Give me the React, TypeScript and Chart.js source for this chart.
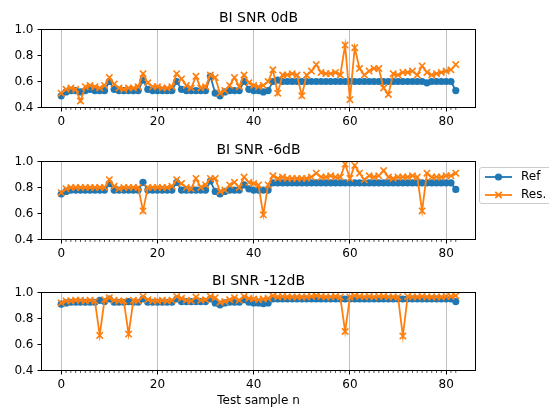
import React, { useEffect, useRef } from "react";
import { Chart, registerables } from "chart.js";
Chart.register(...registerables);

const BLUE = "#1f77b4";
const ORANGE = "#ff7f0e";
const FONT = "DejaVu Sans";

const subplotTitles = ["BI SNR 0dB", "BI SNR -6dB", "BI SNR -12dB"];
const seriesLabels = ["Ref", "Res."];
const xTickValues = [0, 20, 40, 60, 80];
const yTickValues = [0.4, 0.6, 0.8, 1.0];
const xAxisLabel = "Test sample n";
const sampleCount = 83;

const ref0dB = [
  0.49, 0.52, 0.53, 0.53, 0.52, 0.53, 0.54, 0.53, 0.53, 0.53,
  0.60, 0.54, 0.53, 0.53, 0.53, 0.53, 0.53, 0.61, 0.54, 0.53,
  0.53, 0.53, 0.53, 0.53, 0.60, 0.54, 0.53, 0.53, 0.53, 0.53,
  0.53, 0.64, 0.51, 0.49, 0.52, 0.53, 0.53, 0.53, 0.60, 0.54,
  0.53, 0.53, 0.52, 0.53, 0.60, 0.61, 0.60, 0.60, 0.60, 0.60,
  0.60, 0.60, 0.60, 0.60, 0.60, 0.60, 0.60, 0.60, 0.60, 0.60,
  0.60, 0.60, 0.60, 0.60, 0.60, 0.60, 0.60, 0.60, 0.60, 0.60,
  0.60, 0.60, 0.60, 0.60, 0.60, 0.60, 0.59, 0.60, 0.60, 0.60,
  0.60, 0.60, 0.53,
];
const res0dB = [
  0.51, 0.54, 0.55, 0.54, 0.45, 0.56, 0.57, 0.56, 0.55, 0.57,
  0.63, 0.58, 0.55, 0.54, 0.55, 0.55, 0.56, 0.66, 0.59, 0.56,
  0.56, 0.55, 0.55, 0.56, 0.66, 0.62, 0.57, 0.55, 0.64, 0.55,
  0.56, 0.65, 0.63, 0.51, 0.53, 0.57, 0.63, 0.56, 0.65, 0.59,
  0.57, 0.56, 0.57, 0.60, 0.69, 0.51, 0.65, 0.65, 0.66, 0.65,
  0.49, 0.65, 0.68, 0.73, 0.67, 0.66, 0.66, 0.67, 0.65, 0.88,
  0.46, 0.86, 0.70, 0.65, 0.68, 0.70, 0.70, 0.55, 0.50, 0.66,
  0.65, 0.67, 0.67, 0.68, 0.65, 0.72, 0.67, 0.65, 0.66, 0.67,
  0.68, 0.69, 0.73,
];

const ref6dB = [
  0.75, 0.77, 0.78, 0.78, 0.78, 0.78, 0.78, 0.78, 0.78, 0.78,
  0.83, 0.78, 0.78, 0.78, 0.78, 0.78, 0.78, 0.84, 0.78, 0.78,
  0.78, 0.78, 0.78, 0.78, 0.84, 0.78, 0.78, 0.78, 0.78, 0.78,
  0.78, 0.85, 0.77, 0.75, 0.77, 0.78, 0.78, 0.78, 0.82, 0.79,
  0.78, 0.78, 0.78, 0.78, 0.835, 0.835, 0.835, 0.835, 0.835, 0.835,
  0.835, 0.835, 0.835, 0.835, 0.835, 0.835, 0.835, 0.835, 0.835, 0.835,
  0.835, 0.835, 0.835, 0.835, 0.835, 0.835, 0.835, 0.835, 0.835, 0.835,
  0.835, 0.835, 0.835, 0.835, 0.835, 0.835, 0.835, 0.835, 0.835, 0.835,
  0.835, 0.835, 0.785,
];
const res6dB = [
  0.76, 0.79, 0.80, 0.80, 0.80, 0.80, 0.80, 0.80, 0.80, 0.80,
  0.86, 0.81, 0.79, 0.80, 0.80, 0.80, 0.80, 0.62, 0.80, 0.80,
  0.80, 0.80, 0.80, 0.81, 0.86, 0.83, 0.80, 0.79, 0.87, 0.80,
  0.82, 0.87, 0.87, 0.77, 0.78, 0.82, 0.84, 0.80, 0.88, 0.84,
  0.83, 0.82, 0.59, 0.82, 0.89, 0.87, 0.88, 0.87, 0.87, 0.87,
  0.87, 0.87, 0.88, 0.91, 0.88, 0.88, 0.89, 0.88, 0.88, 0.98,
  0.87, 0.97, 0.91, 0.86, 0.89, 0.88, 0.89, 0.93, 0.88, 0.87,
  0.88, 0.88, 0.88, 0.89, 0.88, 0.62, 0.91, 0.88, 0.88, 0.88,
  0.89, 0.89, 0.91,
];

const ref12dB = [
  0.91, 0.92, 0.925, 0.925, 0.925, 0.925, 0.925, 0.925, 0.94, 0.93,
  0.95, 0.925, 0.925, 0.925, 0.93, 0.925, 0.925, 0.95, 0.925, 0.925,
  0.925, 0.925, 0.925, 0.925, 0.95, 0.93, 0.93, 0.93, 0.93, 0.93,
  0.93, 0.95, 0.92, 0.905, 0.92, 0.925, 0.925, 0.925, 0.945, 0.925,
  0.92, 0.92, 0.915, 0.92, 0.95, 0.95, 0.95, 0.95, 0.95, 0.95,
  0.95, 0.95, 0.95, 0.95, 0.95, 0.95, 0.95, 0.95, 0.95, 0.95,
  0.95, 0.95, 0.95, 0.95, 0.95, 0.95, 0.95, 0.95, 0.95, 0.95,
  0.95, 0.95, 0.95, 0.95, 0.95, 0.95, 0.95, 0.95, 0.95, 0.95,
  0.95, 0.95, 0.93,
];
const res12dB = [
  0.92, 0.935, 0.935, 0.94, 0.94, 0.935, 0.94, 0.935, 0.67, 0.945,
  0.96, 0.94, 0.935, 0.935, 0.68, 0.94, 0.935, 0.97, 0.945, 0.935,
  0.935, 0.94, 0.935, 0.94, 0.97, 0.955, 0.94, 0.935, 0.965, 0.94,
  0.945, 0.97, 0.96, 0.925, 0.93, 0.945, 0.96, 0.94, 0.97, 0.955,
  0.95, 0.945, 0.95, 0.955, 0.975, 0.965, 0.97, 0.965, 0.965, 0.965,
  0.965, 0.965, 0.97, 0.975, 0.97, 0.965, 0.965, 0.97, 0.965, 0.70,
  0.965, 0.975, 0.97, 0.965, 0.97, 0.965, 0.97, 0.97, 0.965, 0.965,
  0.965, 0.665, 0.97, 0.965, 0.965, 0.97, 0.965, 0.965, 0.965, 0.965,
  0.97, 0.97, 0.975,
];

const refSeries = [ref0dB, ref6dB, ref12dB];
const resSeries = [res0dB, res6dB, res12dB];

// layout of the three panels (page pixels)
const W = 549;
const H = 412;
const AREA_L = 41.5;
const AREA_R = 475.5;
const AREA_TOP = [29.5, 161.5, 292.5];
const AREA_BOTTOM = [107.5, 239.5, 370.5];
const Y_AXIS_W = 30;
const TITLE_SIZE = 14;
const TITLE_PAD_BOTTOM = 3;

// center the panel title over the plotting area (as matplotlib does)
const titleCenterPlugin = {
  id: "titleCenter",
  afterLayout(chart: any) {
    const tb = chart.titleBlock;
    if (tb) {
      tb.left = chart.chartArea.left;
      tb.right = chart.chartArea.right;
      tb.width = tb.right - tb.left;
    }
  },
};

const framePlugin = {
  id: "frame",
  afterDraw(chart: any) {
    const { ctx, chartArea, scales } = chart;
    ctx.save();
    // minor ticks at every sample
    ctx.strokeStyle = "#000";
    ctx.lineWidth = 0.7;
    ctx.beginPath();
    for (let i = 0; i < sampleCount; i++) {
      if (i % 20 === 0) continue;
      const x = scales.x.getPixelForValue(i);
      ctx.moveTo(x, chartArea.bottom);
      ctx.lineTo(x, chartArea.bottom + 2.4);
    }
    ctx.stroke();
    // spines
    ctx.lineWidth = 1;
    ctx.strokeRect(chartArea.left, chartArea.top, chartArea.right - chartArea.left, chartArea.bottom - chartArea.top);
    ctx.restore();
  },
};

const legendPlugin = {
  id: "mplLegend",
  afterDraw(chart: any) {
    const { ctx } = chart;
    const x0 = 479.5;
    const y0 = 167.5;
    const w = 95;
    const h = 36;
    const r = 2.5;
    ctx.save();
    ctx.beginPath();
    ctx.moveTo(x0 + r, y0);
    ctx.lineTo(x0 + w - r, y0);
    ctx.arcTo(x0 + w, y0, x0 + w, y0 + r, r);
    ctx.lineTo(x0 + w, y0 + h - r);
    ctx.arcTo(x0 + w, y0 + h, x0 + w - r, y0 + h, r);
    ctx.lineTo(x0 + r, y0 + h);
    ctx.arcTo(x0, y0 + h, x0, y0 + h - r, r);
    ctx.lineTo(x0, y0 + r);
    ctx.arcTo(x0, y0, x0 + r, y0, r);
    ctx.closePath();
    ctx.fillStyle = "rgba(255,255,255,0.8)";
    ctx.fill();
    ctx.strokeStyle = "#cccccc";
    ctx.lineWidth = 1;
    ctx.stroke();

    const ds = chart.data.datasets;
    const rows = [
      { label: ds[0].label, color: BLUE, marker: "circle", y: 177 },
      { label: ds[1].label, color: ORANGE, marker: "cross", y: 195 },
    ];
    ctx.font = `12px "${FONT}"`;
    ctx.textBaseline = "middle";
    rows.forEach((row) => {
      ctx.strokeStyle = row.color;
      ctx.lineWidth = 1.8;
      ctx.beginPath();
      ctx.moveTo(485, row.y);
      ctx.lineTo(512, row.y);
      ctx.stroke();
      const mx = 498.5;
      if (row.marker === "circle") {
        ctx.fillStyle = row.color;
        ctx.beginPath();
        ctx.arc(mx, row.y, 3.6, 0, Math.PI * 2);
        ctx.fill();
      } else {
        const d = 3.2;
        ctx.beginPath();
        ctx.moveTo(mx - d, row.y - d);
        ctx.lineTo(mx + d, row.y + d);
        ctx.moveTo(mx + d, row.y - d);
        ctx.lineTo(mx - d, row.y + d);
        ctx.stroke();
      }
      ctx.fillStyle = "#000";
      ctx.textAlign = "left";
      ctx.fillText(row.label, 521, row.y);
    });
    ctx.restore();
  },
};

function makeConfig(k: number): any {
  const isLast = k === 2;
  const xAxisH = isLast ? H - AREA_BOTTOM[k] : 20;
  const padBottom = isLast ? 0 : H - AREA_BOTTOM[k] - xAxisH;
  const padTop = AREA_TOP[k] - (TITLE_SIZE * 1.2 + TITLE_PAD_BOTTOM);
  const tickFont = { family: FONT, size: 12 };
  const plugins: any[] = [titleCenterPlugin, framePlugin];
  if (k === 1) plugins.push(legendPlugin);
  return {
    type: "line",
    data: {
      datasets: [
        {
          label: seriesLabels[0],
          data: refSeries[k].map((v, i) => ({ x: i, y: v })),
          borderColor: BLUE,
          backgroundColor: BLUE,
          borderWidth: 1.8,
          pointStyle: "circle",
          pointRadius: 3.6,
          pointBorderWidth: 0,
          pointBackgroundColor: BLUE,
          pointBorderColor: BLUE,
          order: 2,
          tension: 0,
        },
        {
          label: seriesLabels[1],
          data: resSeries[k].map((v, i) => ({ x: i, y: v })),
          borderColor: ORANGE,
          backgroundColor: ORANGE,
          borderWidth: 1.8,
          pointStyle: "crossRot",
          pointRadius: 4.5,
          pointBorderWidth: 1.6,
          pointBorderColor: ORANGE,
          order: 1,
          tension: 0,
        },
      ],
    },
    options: {
      responsive: false,
      animation: false,
      devicePixelRatio: 1,
      events: [],
      layout: {
        padding: {
          left: AREA_L - Y_AXIS_W,
          right: W - AREA_R,
          top: padTop,
          bottom: padBottom,
        },
      },
      plugins: {
        legend: { display: false },
        tooltip: { enabled: false },
        title: {
          display: true,
          text: subplotTitles[k],
          color: "#000",
          font: { family: FONT, size: TITLE_SIZE, weight: "normal", lineHeight: 1.2 },
          padding: { top: 0, bottom: TITLE_PAD_BOTTOM },
        },
      },
      scales: {
        x: {
          type: "linear",
          min: -4.1,
          max: 86.1,
          afterBuildTicks: (s: any) => {
            s.ticks = xTickValues.map((v) => ({ value: v }));
          },
          afterFit: (s: any) => {
            s.height = xAxisH;
          },
          ticks: {
            color: "#000",
            font: tickFont,
            padding: 3,
            maxRotation: 0,
            autoSkip: false,
            callback: (v: any) => String(v),
          },
          grid: {
            display: true,
            drawOnChartArea: true,
            color: "#b0b0b0",
            lineWidth: 0.8,
            tickColor: "#000",
            tickLength: 4,
            tickWidth: 1,
          },
          border: { display: false },
          title: {
            display: isLast,
            text: xAxisLabel,
            color: "#000",
            font: { family: FONT, size: 12 },
            padding: { top: 0, bottom: 4 },
          },
        },
        y: {
          type: "linear",
          min: 0.4,
          max: 1.0,
          afterBuildTicks: (s: any) => {
            s.ticks = yTickValues.map((v) => ({ value: v }));
          },
          afterFit: (s: any) => {
            s.width = Y_AXIS_W;
          },
          ticks: {
            color: "#000",
            font: tickFont,
            padding: 4,
            callback: (v: any) => Number(v).toFixed(1),
          },
          grid: {
            display: true,
            drawOnChartArea: false,
            tickColor: "#000",
            tickLength: 4,
            tickWidth: 1,
          },
          border: { display: false },
        },
      },
    },
    plugins,
  };
}

function Panel({ k }: { k: number }) {
  const ref = useRef<HTMLCanvasElement | null>(null);
  useEffect(() => {
    if (!ref.current) return;
    const chart = new Chart(ref.current, makeConfig(k));
    return () => chart.destroy();
  }, [k]);
  return (
    <canvas
      ref={ref}
      width={W}
      height={H}
      style={{ position: "absolute", left: 0, top: 0, width: W, height: H }}
    />
  );
}

export default function App() {
  return (
    <div
      style={{
        position: "fixed",
        left: 0,
        top: 0,
        width: W,
        height: H,
        background: "#fff",
        overflow: "hidden",
      }}
    >
      {[0, 1, 2].map((k) => (
        <Panel key={k} k={k} />
      ))}
    </div>
  );
}
